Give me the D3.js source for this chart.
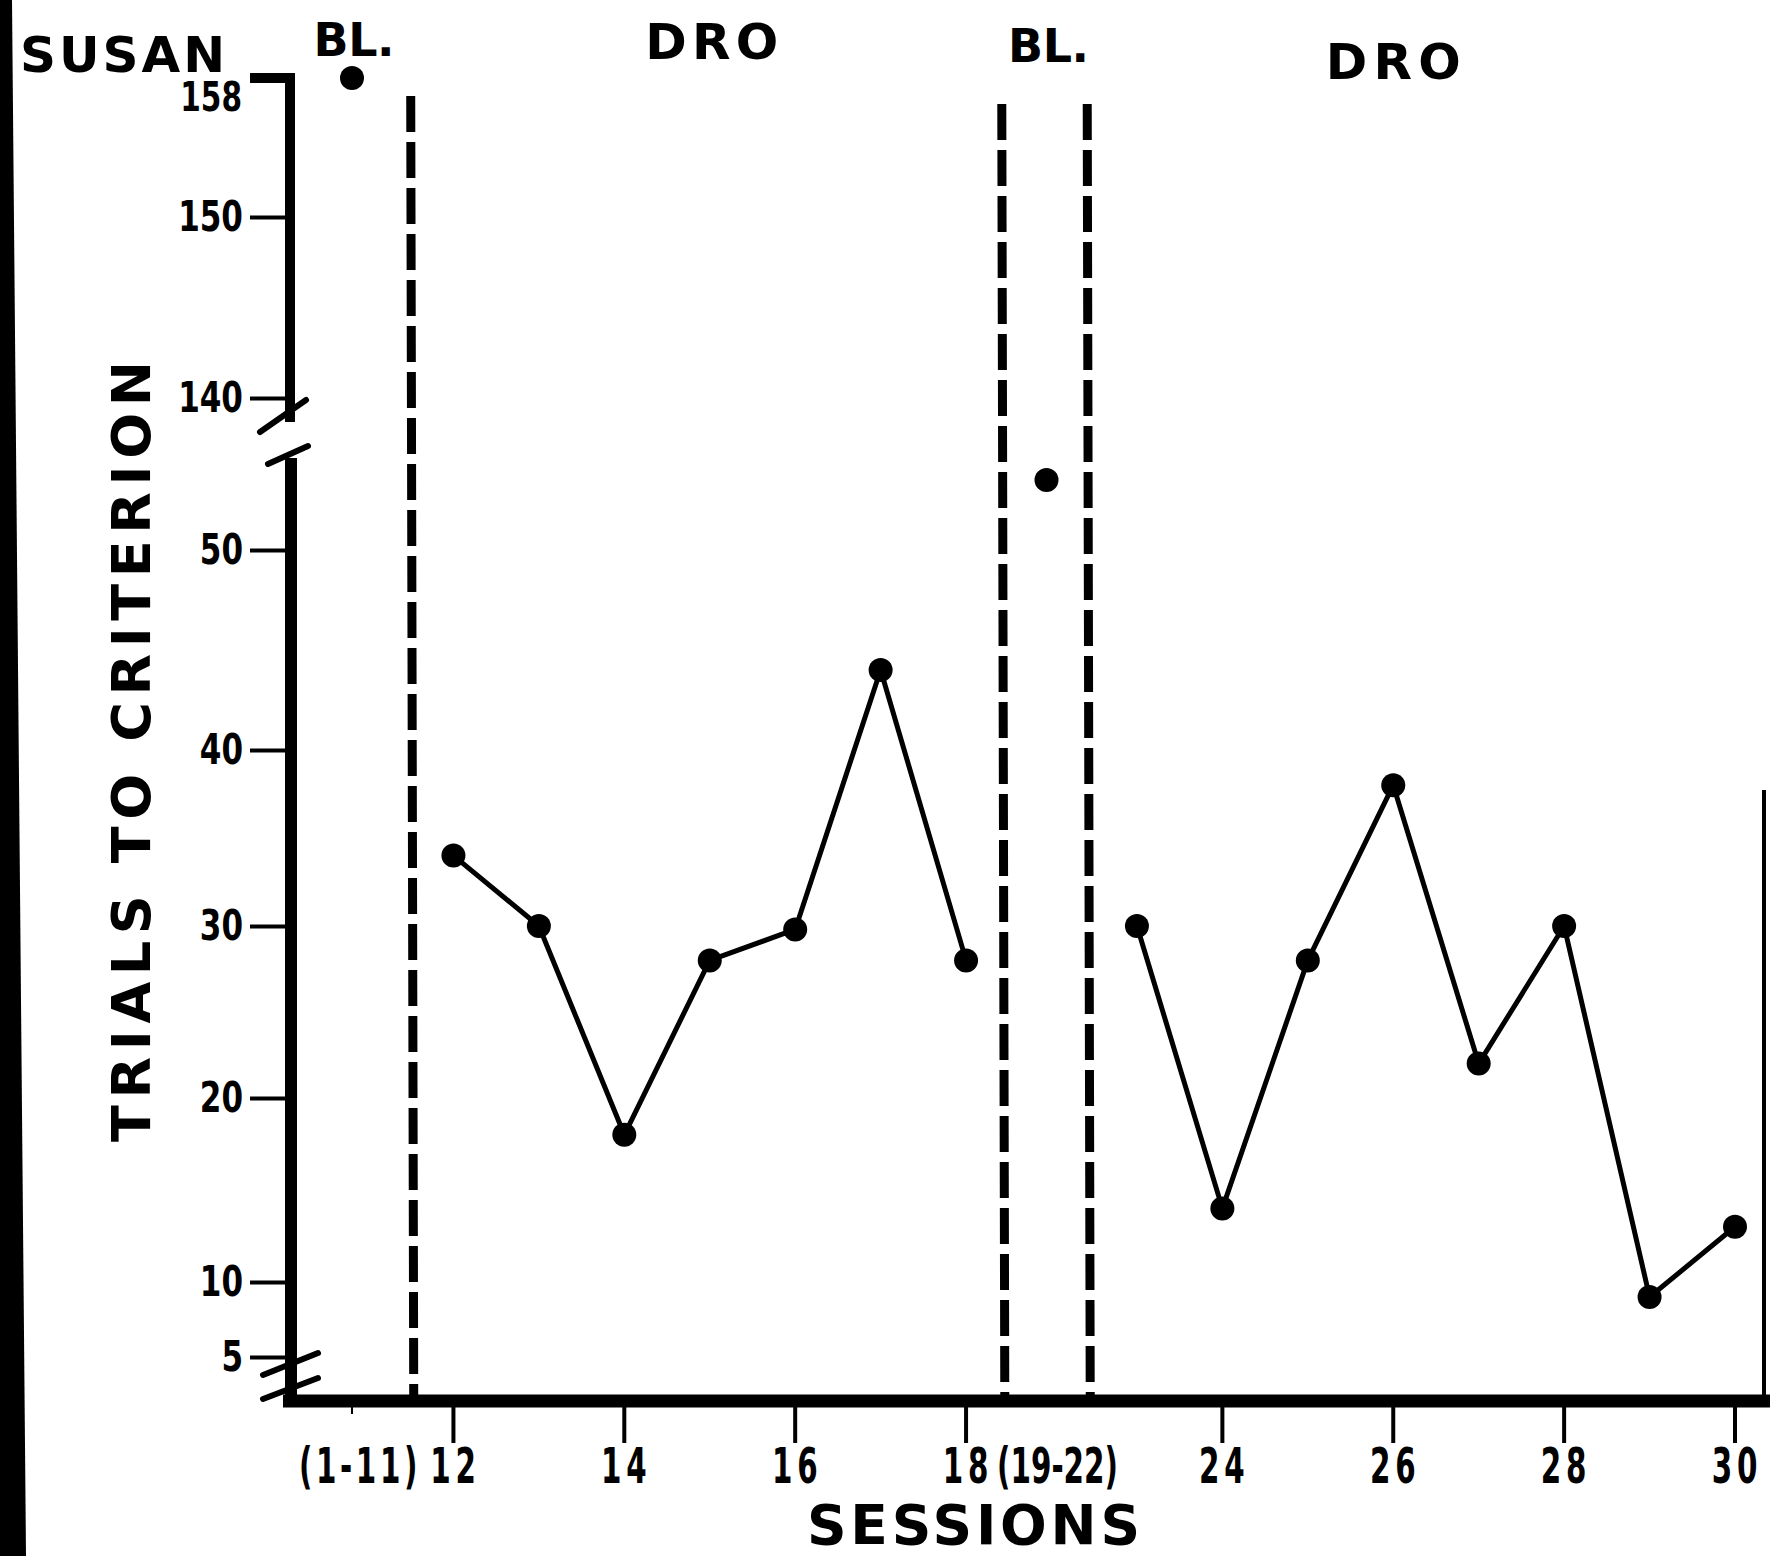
<!DOCTYPE html>
<html><head><meta charset="utf-8">
<script src="https://cdn.jsdelivr.net/npm/d3@7/dist/d3.min.js"></script>
<style>
html,body{margin:0;padding:0;background:#fff;}
svg{display:block;}
</style></head>
<body>
<script>
// ---- data ----
const slots = ["(1-11)","12","13","14","15","16","17","18","(19-22)","23","24","25","26","27","28","29","30"];
const xTickLabels = ["(1-11)","12","14","16","18","(19-22)","24","26","28","30"];
const blSessions = ["(1-11)","(19-22)"];
const blValues = [158, 53.5];
const dro1Sessions = ["12","13","14","15","16","17","18"];
const dro1Values = [34, 30, 18, 28, 29.8, 44, 28];
const dro2Sessions = ["23","24","25","26","27","28","29","30"];
const dro2Values = [30, 14, 28, 38, 22, 30, 9, 13];
const yTicksLower = [5, 10, 20, 30, 40, 50];
const yTicksUpper = [140, 150, 158];
const phaseNames = ["BL.", "DRO", "BL.", "DRO"];
const subject = "SUSAN";
const yTitle = "TRIALS TO CRITERION";
const xTitle = "SESSIONS";

// ---- layout ----
const W = 1770, H = 1556;
const axisX = 290, axisY = 1401;
const svg = d3.select("body").append("svg").attr("width", W).attr("height", H);
svg.append("rect").attr("width", W).attr("height", H).attr("fill", "#fff");

const x = d3.scalePoint().domain(slots).range([368, 1735]);
// the first lumped baseline slot is drawn a little left of the regular grid
const slotShift = d => d === "(1-11)" ? -16 : 0;
const xs = d => x(d) + slotShift(d);
// hand-drawn, unevenly spaced axis: piecewise-linear scales through the tick marks
const yLow = d3.scaleLinear().domain(yTicksLower).range([1357, 1282, 1098, 926, 750, 550]);
const yUp = d3.scaleLinear().domain(yTicksUpper).range([398, 217, 78]);
const yAny = v => v >= 100 ? yUp(v) : yLow(v);

const titleFont = "'DejaVu Sans', Verdana, sans-serif";
const tickFont = "'DejaVu Sans', sans-serif";

// scan border strips
svg.append("path").attr("d", `M0,0 L12,0 L26,${H} L0,${H} Z`).attr("fill", "#000");
svg.append("line").attr("x1", 1764).attr("x2", 1764).attr("y1", 790).attr("y2", axisY)
  .attr("stroke", "#000").attr("stroke-width", 4);

// ---- phase lines ----
const mid = (a, b) => (x(a) + x(b)) / 2;
const phaseLines = [
  {x: mid("(1-11)", "12"), top: 96},
  {x: mid("18", "(19-22)") - 7, top: 104},
  {x: mid("(19-22)", "23") - 7, top: 104}
];
svg.selectAll(".phase").data(phaseLines).enter().append("line")
  .attr("x1", d => d.x).attr("x2", d => d.x + 3)
  .attr("y1", d => d.top).attr("y2", axisY - 6)
  .attr("stroke", "#000").attr("stroke-width", 9)
  .attr("stroke-dasharray", "36,10");

// ---- axes ----
svg.append("line").attr("x1", axisX - 7).attr("x2", W).attr("y1", axisY).attr("y2", axisY)
  .attr("stroke", "#000").attr("stroke-width", 13);
const xAxis = d3.axisBottom(x).tickValues(xTickLabels).tickSize(0).tickPadding(0);
const gx = svg.append("g").attr("transform", `translate(0,${axisY})`).call(xAxis);
gx.select(".domain").remove();
gx.selectAll(".tick").attr("transform", d => `translate(${xs(d)},0)`);
gx.selectAll(".tick").filter(d => d !== "(19-22)").append("line")
  .attr("y1", 5).attr("y2", d => d === "(1-11)" ? 13 : 42)
  .attr("stroke", "#000").attr("stroke-width", d => d === "(1-11)" ? 2 : 4);
gx.selectAll(".tick text")
  .attr("y", 82).attr("dy", 0).attr("x", 0)
  .attr("fill", "#000")
  .style("font-family", tickFont).style("font-weight", "bold").style("font-size", "49px")
  .attr("letter-spacing", d => d.length === 2 ? 8 : (d === "(1-11)" ? 6 : 0))
  .attr("transform", d => `translate(${d === "(19-22)" ? 6 : (d === "(1-11)" ? 8 : 2)},0) scale(0.6,1)`);

// y axis: upper segment
svg.append("path").attr("d", `M${axisX - 40},${yUp(158)} L${axisX},${yUp(158)} L${axisX},${yUp(140) + 24}`)
  .attr("fill", "none").attr("stroke", "#000").attr("stroke-width", 10);
// y axis: lower segment
svg.append("line").attr("x1", axisX + 1).attr("x2", axisX + 1).attr("y1", yLow(50) - 92).attr("y2", axisY)
  .attr("stroke", "#000").attr("stroke-width", 12);

const tSize = 40, tPad = 7;
const gyL = svg.append("g").attr("transform", `translate(${axisX},0)`)
  .call(d3.axisLeft(yLow).tickValues(yTicksLower).tickSize(tSize).tickPadding(tPad));
const gyU = svg.append("g").attr("transform", `translate(${axisX},0)`)
  .call(d3.axisLeft(yUp).tickValues(yTicksUpper.filter(v => v !== 158)).tickSize(tSize).tickPadding(tPad));
[gyL, gyU].forEach(g => {
  g.select(".domain").remove();
  g.selectAll(".tick line").attr("stroke", "#000").attr("stroke-width", 4);
  g.selectAll(".tick text").attr("fill", "#000").attr("x", 0)
    .attr("transform", `translate(${-(tSize + tPad)},0) scale(0.74,1)`)
    .style("font-family", tickFont).style("font-weight", "bold").style("font-size", "42px");
});
// 158 label sits just under its tick
svg.append("text").attr("transform", `translate(${axisX - tSize - tPad - 1},${yUp(158) + 33}) scale(0.74,1)`)
  .attr("text-anchor", "end").attr("fill", "#000")
  .style("font-family", tickFont).style("font-weight", "bold").style("font-size", "40px")
  .text(yTicksUpper[2]);

// axis breaks
const breaks = [
  [axisX - 30, yUp(140) + 34, axisX + 16, yUp(140) + 2],
  [axisX - 22, yLow(50) - 86, axisX + 18, yLow(50) - 104],
  [axisX - 27, yLow(5) + 18, axisX + 28, yLow(5) - 4],
  [axisX - 27, yLow(5) + 42, axisX + 28, yLow(5) + 21]
];
svg.selectAll(".brk").data(breaks).enter().append("line")
  .attr("x1", d => d[0]).attr("y1", d => d[1]).attr("x2", d => d[2]).attr("y2", d => d[3])
  .attr("stroke", "#000").attr("stroke-width", 6).attr("stroke-linecap", "round");

// ---- data marks ----
const line = d3.line().x(d => x(d[0])).y(d => yLow(d[1]));
[[dro1Sessions, dro1Values], [dro2Sessions, dro2Values]].forEach(([s, v]) => {
  const pts = s.map((k, i) => [k, v[i]]);
  svg.append("path").attr("d", line(pts)).attr("fill", "none")
    .attr("stroke", "#000").attr("stroke-width", 5).attr("stroke-linejoin", "round");
  svg.selectAll(null).data(pts).enter().append("circle")
    .attr("cx", d => x(d[0])).attr("cy", d => yLow(d[1])).attr("r", 12).attr("fill", "#000");
});
svg.selectAll(".bl").data(blSessions.map((k, i) => [k, blValues[i]])).enter().append("circle")
  .attr("cx", d => xs(d[0]) - (d[0] === "(19-22)" ? 5 : 0)).attr("cy", d => yAny(d[1])).attr("r", 12).attr("fill", "#000");

// ---- texts ----
const bold = sel => sel.attr("fill", "#000").style("font-family", titleFont).style("font-weight", "bold");
bold(svg.append("text").attr("x", 20).attr("y", 72).style("font-size", "50px")
  .attr("textLength", 205).attr("lengthAdjust", "spacing").text(subject));

const phaseLabelPos = [
  {x: xs("(1-11)") + 2, y: 56, len: 81},
  {x: x("15") + 2, y: 59, len: 133},
  {x: x("(19-22)") - 3, y: 62, len: 81},
  {x: x("26"), y: 79, len: 135}
];
phaseNames.forEach((n, i) => {
  const p = phaseLabelPos[i];
  bold(svg.append("text").attr("x", p.x - p.len / 2).attr("y", p.y)
    .style("font-size", n === "DRO" ? "50px" : "46px")
    .attr("textLength", p.len).attr("lengthAdjust", "spacing").text(n));
});

bold(svg.append("text").attr("transform", `translate(150,${752}) rotate(-90)`)
  .attr("x", -390).attr("y", 0).style("font-size", "54px")
  .attr("textLength", 781).attr("lengthAdjust", "spacing").text(yTitle));

bold(svg.append("text").attr("x", 973 - 166).attr("y", 1544).style("font-size", "55px")
  .attr("textLength", 333).attr("lengthAdjust", "spacing").text(xTitle));
</script>
</body></html>
